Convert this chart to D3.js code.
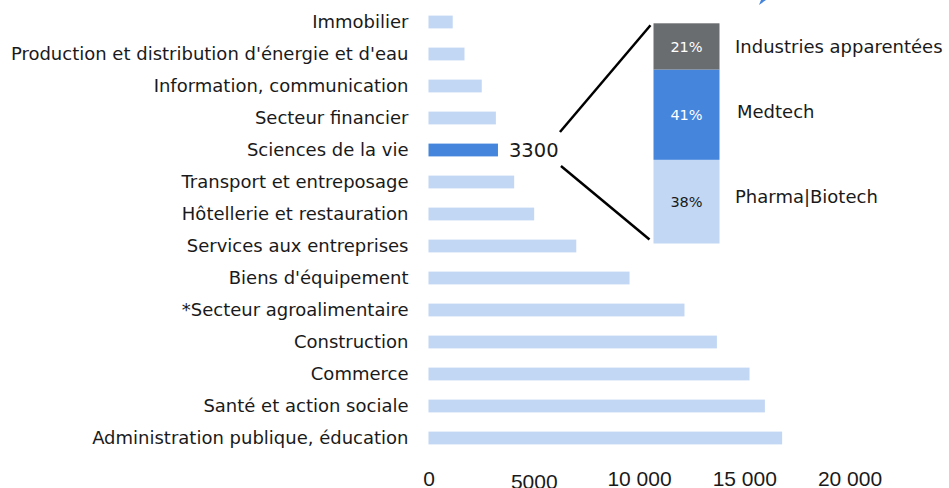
<!DOCTYPE html>
<html>
<head>
<meta charset="utf-8">
<script src="https://cdn.jsdelivr.net/npm/d3@7"></script>
<style>
  body { margin: 0; background: #fff; }
  svg { display: block; }
  .cat { font-family: "DejaVu Sans", sans-serif; font-size: 18px; fill: #1a1a1a; }
  .tick text { font-family: "Liberation Sans", Arial, sans-serif; font-size: 21px; fill: #1a1a1a; }
</style>
</head>
<body>
<div id="chart"></div>
<script>
// secteurs, du haut vers le bas
const sectors = ["Immobilier", "Production et distribution d'énergie et d'eau", "Information, communication",
    "Secteur financier", "Sciences de la vie", "Transport et entreposage", "Hôtellerie et restauration",
    "Services aux entreprises", "Biens d'équipement", "*Secteur agroalimentaire", "Construction",
    "Commerce", "Santé et action sociale", "Administration publique, éducation"];
const employees = [1150, 1710, 2530, 3200, 3300, 4070, 5020, 7020, 9550, 12160, 13700, 15250, 15980, 16800];
const highlighted = "Sciences de la vie";
const xTicks = [0, 5000, 10000, 15000, 20000];
const xTickLabels = ["0", "5000", "10 000", "15 000", "20 000"];

// détail sciences de la vie (du bas vers le haut)
const lsParts = ["Pharma|Biotech", "Medtech", "Industries apparentées"];
const lsShares = [38, 41, 21];
const lsColors = ["#c2d7f3", "#4585dc", "#6a6d6f"];

const width = 949, height = 488;
const light = "#c2d7f3", strong = "#4585dc";

const svg = d3.select("#chart").append("svg")
    .attr("width", width)
    .attr("height", height);

let xScale = d3.scaleLinear()
    .domain([0, 20000])
    .range([428.5, 849.5]);
let yScale = d3.scaleBand()
    .domain(sectors)
    .range([6, 454])
    .paddingInner(0.6)
    .paddingOuter(0.3);

// barres
svg.append("g").selectAll("rect")
    .data(sectors)
    .enter().append("rect")
    .attr("x", xScale(0))
    .attr("y", d => yScale(d))
    .attr("height", yScale.bandwidth())
    .attr("width", (d, i) => xScale(employees[i]) - xScale(0))
    .attr("fill", d => d === highlighted ? strong : light);

// libellés
svg.append("g").selectAll("text")
    .data(sectors)
    .enter().append("text")
    .attr("class", "cat")
    .attr("x", 408.5)
    .attr("y", d => yScale(d) + yScale.bandwidth() / 2)
    .attr("dy", "0.35em")
    .attr("text-anchor", "end")
    .text(d => d);

// axe x
let xAxis = svg.append("g")
    .attr("transform", "translate(0,470)")
    .call(d3.axisBottom(xScale).tickValues(xTicks).tickSize(0).tickFormat((d, i) => xTickLabels[i]));
xAxis.select(".domain").remove();
xAxis.selectAll(".tick text")
    .attr("y", 0)
    .attr("dy", d => d === 5000 ? "0.92em" : "0.76em");

// valeur sciences de la vie
let hiIdx = sectors.indexOf(highlighted);
let hiY = yScale(highlighted) + yScale.bandwidth() / 2;
svg.append("text")
    .attr("class", "cat")
    .attr("x", xScale(employees[hiIdx]) + 11)
    .attr("y", hiY)
    .attr("dy", "0.36em")
    .style("font-size", "19.5px")
    .text(d3.format("d")(employees[hiIdx]));

// barre empilée
let stackX = 653.5, stackW = 66;
let sScale = d3.scaleLinear()
    .domain([0, 100])
    .range([243.5, 23.3]);
let cum = d3.cumsum(lsShares);
let parts = lsParts.map((p, i) => ({name: p, share: lsShares[i], y0: cum[i] - lsShares[i], y1: cum[i], color: lsColors[i]}));

let stackG = svg.append("g");
stackG.selectAll("rect")
    .data(parts)
    .enter().append("rect")
    .attr("x", stackX)
    .attr("width", stackW)
    .attr("y", d => sScale(d.y1))
    .attr("height", d => sScale(d.y0) - sScale(d.y1))
    .attr("fill", d => d.color);

stackG.selectAll("text.pct")
    .data(parts)
    .enter().append("text")
    .attr("class", "pct")
    .attr("x", stackX + stackW / 2)
    .attr("y", d => sScale((d.y0 + d.y1) / 2))
    .attr("dy", "0.36em")
    .attr("text-anchor", "middle")
    .style("font-family", "\"DejaVu Sans\", sans-serif")
    .style("font-size", "14.5px")
    .style("fill", (d, i) => i === 0 ? "#1a1a1a" : "#ffffff")
    .text(d => d.share + "%");

let legendY = [197, 112, 47];
stackG.selectAll("text.leg")
    .data(parts)
    .enter().append("text")
    .attr("class", "cat leg")
    .attr("x", (d, i) => i === 1 ? 737 : 735)
    .attr("y", (d, i) => legendY[i])
    .attr("dy", "0.35em")
    .text(d => d.name);

// lignes de liaison
let lx = xScale(employees[hiIdx]) + 62;
svg.append("line")
    .attr("x1", lx).attr("y1", hiY - 18)
    .attr("x2", stackX - 3).attr("y2", sScale(100) + 2)
    .attr("stroke", "#000").attr("stroke-width", 2.5);
svg.append("line")
    .attr("x1", lx + 1).attr("y1", hiY + 16)
    .attr("x2", stackX - 4).attr("y2", sScale(0) - 4)
    .attr("stroke", "#000").attr("stroke-width", 2.5);

// petit fragment bleu en haut
svg.append("path")
    .attr("d", "M759,5 L766,0 L761,0 Z")
    .attr("fill", strong);
</script>
</body>
</html>
